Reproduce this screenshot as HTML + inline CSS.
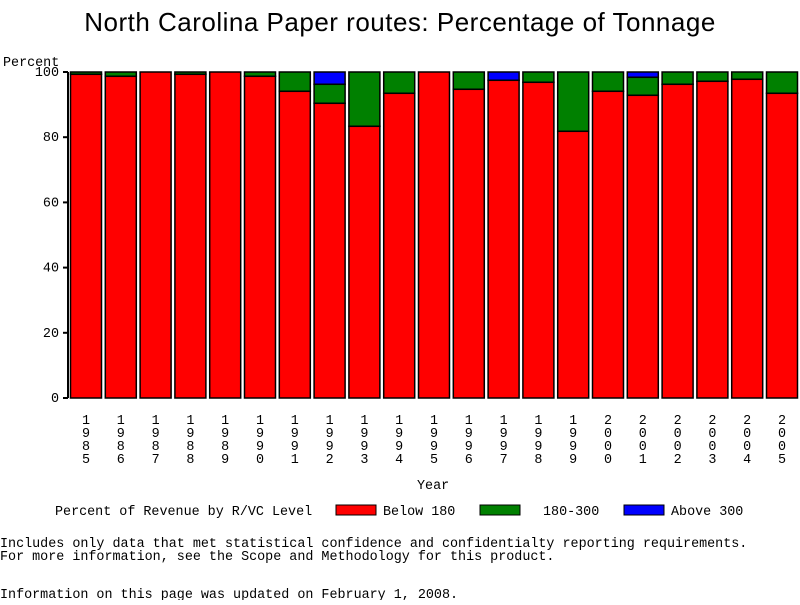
<!DOCTYPE html>
<html><head><meta charset="utf-8"><style>
body{margin:0;background:#fff;}
svg text{font-family:"Liberation Mono",monospace;font-size:13.4px;fill:#000;}
</style></head><body>
<svg width="800" height="600" xmlns="http://www.w3.org/2000/svg">
<rect width="800" height="600" fill="#fff"/>
<text x="400" y="31" text-anchor="middle" style="font-family:'Liberation Sans',sans-serif;font-size:26px;letter-spacing:0.5px">North Carolina Paper routes: Percentage of Tonnage</text>
<text x="3" y="66">Percent</text>
<g id="bars" stroke="#000" stroke-width="1.5"></g>
<g id="axis"></g>
<line x1="68" y1="72" x2="68" y2="398" stroke="#000" stroke-width="2"/>
<text x="417" y="489">Year</text>
<text x="55" y="515">Percent of Revenue by R/VC Level</text>
<rect x="336" y="505" width="40" height="10" fill="#f00" stroke="#000"/>
<text x="383" y="515">Below 180</text>
<rect x="480" y="505" width="40" height="10" fill="#008000" stroke="#000"/>
<text x="543" y="515">180-300</text>
<rect x="624" y="505" width="40" height="10" fill="#00f" stroke="#000"/>
<text x="671" y="515">Above 300</text>
<text x="0" y="547">Includes only data that met statistical confidence and confidentialty reporting requirements.</text>
<text x="0" y="560">For more information, see the Scope and Methodology for this product.</text>
<text x="0" y="598">Information on this page was updated on February 1, 2008.</text>
</svg>
<script>
var ns="http://www.w3.org/2000/svg";
var g=document.getElementById('bars'),ax=document.getElementById('axis');
var d=[[72,74.3],[72,76.3],[72,72],[72,74.3],[72,72],[72,76.3],[72,91.3],[84.3,103.3],[72,126.3],[72,93.3],[72,72],
[72,89.3],[80.3,80.3],[72,82.3],[72,131.3],[72,91.3],[77.3,95.3],[72,84.3],[72,81.3],[72,79.3],[72,93.3]];
function r(x,y,w,h,f){if(h<=0)return;var e=document.createElementNS(ns,'rect');e.setAttribute('x',x);e.setAttribute('y',y);e.setAttribute('width',w);e.setAttribute('height',h);e.setAttribute('fill',f);g.appendChild(e);}
function t(x,y,s,a){var e=document.createElementNS(ns,'text');e.setAttribute('x',x);e.setAttribute('y',y);if(a)e.setAttribute('text-anchor',a);e.textContent=s;ax.appendChild(e);}
for(var i=0;i<21;i++){var x=70.5+34.8*i,w=31;
 r(x,72,w,d[i][0]-72,'#00f');r(x,d[i][0],w,d[i][1]-d[i][0],'#008000');r(x,d[i][1],w,398-d[i][1],'#f00');
 var yr=String(1985+i);for(var k=0;k<4;k++)t(x+w/2,424+13*k,yr[k],'middle');}
for(var v=0;v<=100;v+=20){var y=398-3.26*v;t(59,y+4,String(v),'end');
 var l=document.createElementNS(ns,'line');l.setAttribute('x1',63);l.setAttribute('x2',68);l.setAttribute('y1',y);l.setAttribute('y2',y);l.setAttribute('stroke','#000');l.setAttribute('stroke-width',2);ax.appendChild(l);}
</script>
</body></html>
